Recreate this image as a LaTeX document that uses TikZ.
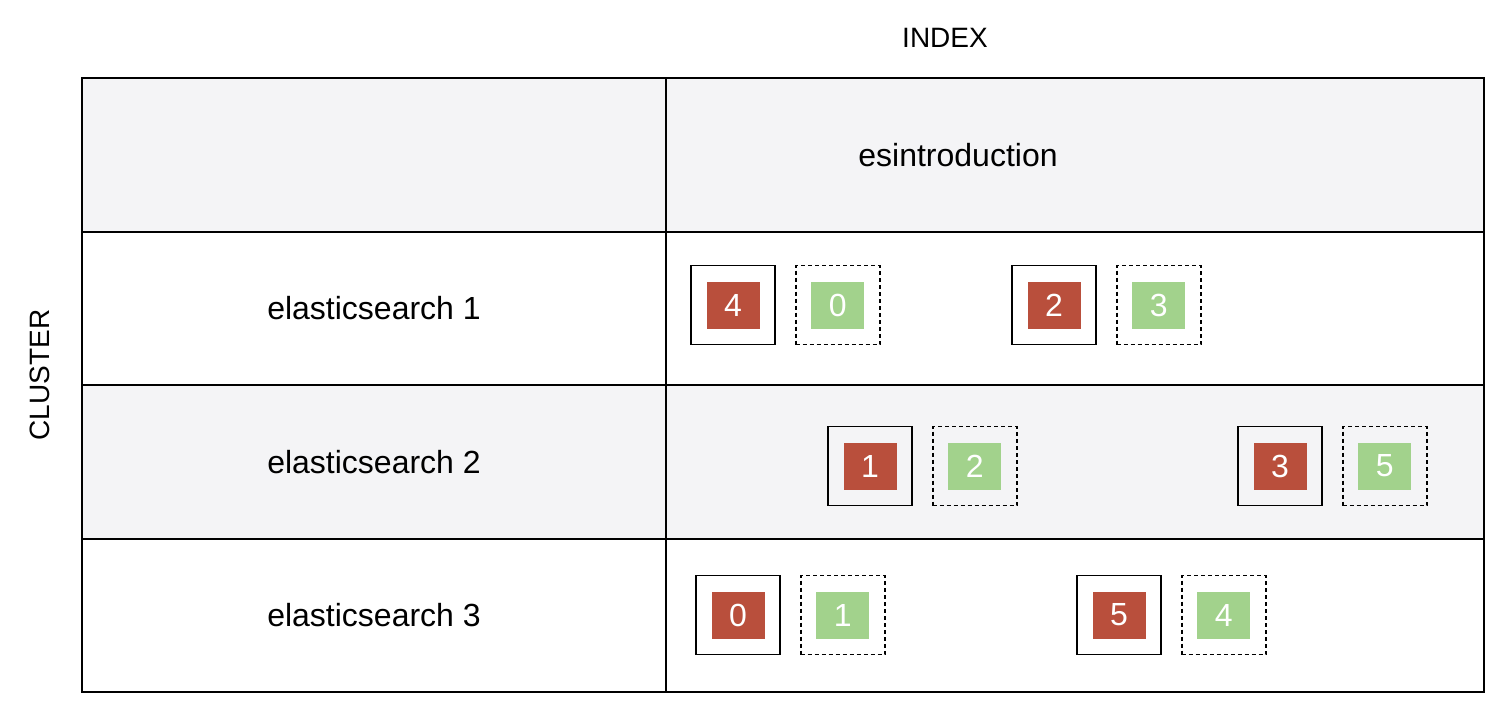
\documentclass[tikz,border=0pt]{standalone}
\usepackage{fontspec}
\setmainfont{Liberation Sans}
\usetikzlibrary{positioning}
\definecolor{rowgray}{HTML}{F4F4F6}
\definecolor{shardred}{HTML}{B94F3C}
\definecolor{shardgreen}{HTML}{A2D28C}
\tikzstyle{cell} = [draw=black, line width=1.8pt]
\tikzstyle{label} = [font=\fontsize{32pt}{32pt}\selectfont]
\tikzstyle{title} = [font=\fontsize{28pt}{28pt}\selectfont]
\tikzstyle{primary} = [draw=black, line width=1.6pt, minimum width=84pt, minimum height=79pt, inner sep=0pt]
\tikzstyle{replica} = [draw=black, line width=1.8pt, dash pattern=on 4pt off 3pt, minimum width=84pt, minimum height=79pt, inner sep=0pt]
\tikzstyle{redshard} = [fill=shardred, text=white, minimum width=53pt, minimum height=47pt, inner sep=0pt, font=\fontsize{32pt}{32pt}\selectfont]
\tikzstyle{greenshard} = [fill=shardgreen, text=white, minimum width=53pt, minimum height=47pt, inner sep=0pt, font=\fontsize{32pt}{32pt}\selectfont]

\begin{document}
\begin{tikzpicture}[x=1pt, y=-1pt]
\useasboundingbox (0,0) rectangle (1508,717);
%background rows
\fill[rowgray] (82,78) rectangle (1484,232);
\fill[rowgray] (82,385) rectangle (1484,539);
%table lines
\draw[cell] (82,78) rectangle (1484,692);
\draw[cell] (666,78) -- (666,692);
\draw[cell] (82,232) -- (1484,232);
\draw[cell] (82,385) -- (1484,385);
\draw[cell] (82,539) -- (1484,539);
%titles
\node[title] (index) at (945,38) {INDEX};
\node[title, rotate=90] (cluster) at (40,375) {CLUSTER};
\node[label] (esintro) at (958,155) {esintroduction};
%nodes
\node[label] (es1) at (374,308) {elasticsearch 1};
\node[label] (es2) at (374,462) {elasticsearch 2};
\node[label] (es3) at (374,615) {elasticsearch 3};

%elasticsearch 1
\node[primary] (p4) at (733,305) {};
\node[redshard] at (p4) {4};
\node[replica, right=19pt of p4] (r0) {};
\node[greenshard] at (r0) {0};
\node[primary] (p2) at (1054,305) {};
\node[redshard] at (p2) {2};
\node[replica, right=19pt of p2] (r3) {};
\node[greenshard] at (r3) {3};

%elasticsearch 2
\node[primary] (p1) at (870,466) {};
\node[redshard] at (p1) {1};
\node[replica, right=19pt of p1] (r2) {};
\node[greenshard] at (r2) {2};
\node[primary] (p3) at (1280,466) {};
\node[redshard] at (p3) {3};
\node[replica, right=19pt of p3] (r5) {};
\node[greenshard] at (r5) {5};

%elasticsearch 3
\node[primary] (p0) at (738,615) {};
\node[redshard] at (p0) {0};
\node[replica, right=19pt of p0] (r1) {};
\node[greenshard] at (r1) {1};
\node[primary] (p5) at (1119,615) {};
\node[redshard] at (p5) {5};
\node[replica, right=19pt of p5] (r4) {};
\node[greenshard] at (r4) {4};
\end{tikzpicture}
\end{document}
